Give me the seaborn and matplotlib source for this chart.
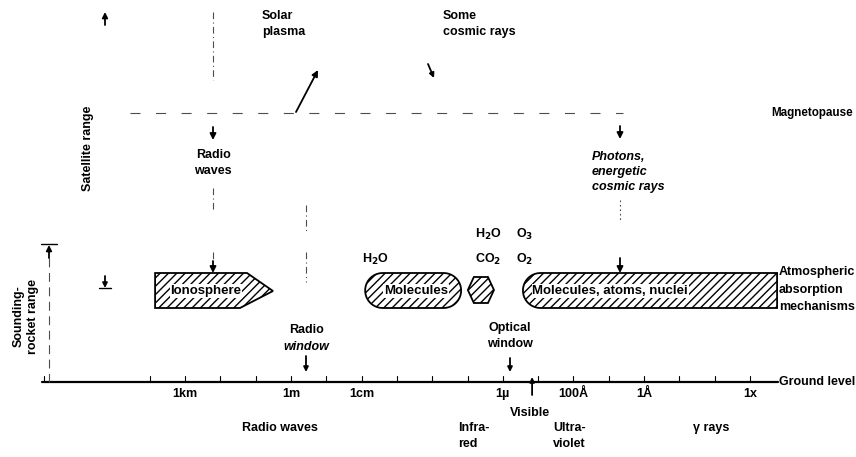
import numpy as np
import matplotlib.pyplot as plt
import seaborn as sns
from matplotlib.patches import Polygon

sns.set_style("white")
plt.rcParams["font.family"] = ["Liberation Sans Narrow", "Liberation Sans", "DejaVu Sans"]
plt.rcParams["font.weight"] = "bold"
plt.rcParams["hatch.linewidth"] = 1.0
plt.rcParams["text.color"] = "black"

# x axis: log10 of wavelength in metres (long waves on the left)
ground_span = [7.05, -13.8]
tick_decades = [7, 4, 3, 2, 1, 0, -1, -2, -3, -4, -5, -6, -7, -8, -9, -10, -11, -12, -13]
label_decades = [3, 0, -2, -6, -8, -10, -13]
label_names = ["1km", "1m", "1cm", "1\u00b5", "100\u00c5", "1\u00c5", "1x"]

# absorption bands, log10 wavelength limits
band_names = ["Ionosphere", "Molecules", "", "Molecules, atoms, nuclei"]
band_left = [3.85, -2.10, -5.01, -6.57]
band_right = [0.51, -4.82, -5.75, -13.77]
band_text_x = [2.41, -3.54, None, -9.04]

# spectral regions under the ground line
region_names = ["Radio waves", "Infra-\nred", "Visible", "Ultra-\nviolet", "\u03b3 rays"]
region_x = [0.31, -4.73, -6.77, -7.42, -11.39]

# screen mapping used for layout (pixels per decade, pixel of 1 m)
PX = 35.3
X0 = 291.0
W, H = 856, 457

# vertical levels (layout, pixel rows from top)
Y_GROUND = 382
Y_TOP, Y_BOT = 273, 308
Y_MAG = 113


def to_px(v):
    return X0 - PX * np.asarray(v)


def to_log(p):
    return (X0 - np.asarray(p)) / PX


def stadium(xl, xr, top, bot, round_left=True, round_right=True):
    # rounded bar; built in screen space so the ends stay round
    pl, pr = to_px(xl), to_px(xr)
    r = (bot - top) / 2.0
    yc = (top + bot) / 2.0
    pts = []
    if round_right:
        t = np.linspace(-np.pi / 2, np.pi / 2, 20)
        pts += list(zip(pr - r + r * np.cos(t), yc + r * np.sin(t)))
    else:
        pts += [(pr, top), (pr, bot)]
    if round_left:
        t = np.linspace(np.pi / 2, 3 * np.pi / 2, 20)
        pts += list(zip(pl + r + r * np.cos(t), yc + r * np.sin(t)))
    else:
        pts += [(pl, bot), (pl, top)]
    pts = np.array(pts)
    return np.column_stack([to_log(pts[:, 0]), pts[:, 1]])


def arrow(ax, x0, y0, x1, y1, ms=9):
    ax.annotate("", xy=(x1, y1), xytext=(x0, y0),
                arrowprops=dict(arrowstyle="-|>", color="black", lw=1.3,
                                mutation_scale=ms, shrinkA=0, shrinkB=0))


fig = plt.figure(figsize=(W / 100, H / 100), dpi=100)
ax = fig.add_axes([0, 0, 1, 1])
ax.set_xlim(X0 / PX, (X0 - W) / PX)
ax.set_ylim(H, 0)
ax.axis("off")

fs = 9
dash_dot = (0, (6, 3, 1, 3))

# ground level line with decade ticks
sns.lineplot(x=ground_span, y=[Y_GROUND, Y_GROUND], ax=ax, color="black", lw=1.6)
for d in tick_decades:
    ax.plot([d, d], [Y_GROUND, Y_GROUND - 6], color="black", lw=0.8)
for d, name in zip(label_decades, label_names):
    ax.text(d, 394, name, ha="center", va="center", fontsize=fs)
ax.text(to_log(779), Y_GROUND, "Ground level", ha="left", va="center", fontsize=fs)

# spectral regions
for x, name in zip(region_x, region_names):
    ha = "center" if name in ("Radio waves", "Visible") else "left"
    y = 413 if name == "Visible" else 428
    va = "center" if "\n" not in name else "top"
    if "\n" in name:
        y = 422
    ax.text(x, y, name, ha=ha, va=va, fontsize=fs, linespacing=1.45)
arrow(ax, -6.83, 395, -6.83, 377, ms=7)

# magnetopause
ax.plot([4.56, -9.4], [Y_MAG, Y_MAG], color="0.3", lw=0.8, ls=(0, (9, 14)))
ax.text(to_log(771), Y_MAG, "Magnetopause", ha="left", va="center", fontsize=fs - 0.6)

# absorption bands
iono = np.array([
    [band_left[0], Y_TOP],
    [to_log(247), Y_TOP],
    [band_right[0], 291],
    [to_log(240), Y_BOT],
    [band_left[0], Y_BOT],
])
shapes = [
    iono,
    stadium(band_left[1], band_right[1], Y_TOP, Y_BOT),
    None,
    stadium(band_left[3], band_right[3], Y_TOP, Y_BOT, round_right=False),
]
# small hexagon for H2O / CO2
hl, hr = to_px(band_left[2]), to_px(band_right[2])
hx = np.array([hl, hl + 6, hr - 6, hr, hr - 6, hl + 6])
hy = np.array([290, 277, 277, 290, 303, 303])
shapes[2] = np.column_stack([to_log(hx), hy])

for shp, name, tx in zip(shapes, band_names, band_text_x):
    ax.add_patch(Polygon(shp, closed=True, facecolor="white", edgecolor="black",
                         lw=1.3, hatch="////"))
    if name:
        ax.text(tx, 291, name, ha="center", va="center", fontsize=fs + 0.5,
                bbox=dict(facecolor="white", edgecolor="none", pad=0.5))

ax.text(to_log(779), 272, "Atmospheric", ha="left", va="center", fontsize=fs)
ax.text(to_log(779), 290, "absorption", ha="left", va="center", fontsize=fs)
ax.text(to_log(779), 307, "mechanisms", ha="left", va="center", fontsize=fs)

# molecule labels
ax.text(to_log(375), 259, "H$_2$O", ha="center", va="center", fontsize=fs)
ax.text(to_log(488), 234, "H$_2$O", ha="center", va="center", fontsize=fs)
ax.text(to_log(488), 259, "CO$_2$", ha="center", va="center", fontsize=fs)
ax.text(to_log(525), 234, "O$_3$", ha="center", va="center", fontsize=fs)
ax.text(to_log(525), 259, "O$_2$", ha="center", va="center", fontsize=fs)

# radio waves column
xr = to_log(213)
for y0, y1 in [(12, 80), (188, 210), (252, 262)]:
    ax.plot([xr, xr], [y0, y1], color="0.3", lw=0.8, ls=dash_dot)
arrow(ax, xr, 127, xr, 140)
ax.text(xr, 163, "Radio\nwaves", ha="center", va="center", fontsize=fs, linespacing=1.45)
arrow(ax, xr, 261, xr, Y_TOP)

# radio window column
xw = to_log(306)
for y0, y1 in [(205, 232), (252, 282)]:
    ax.plot([xw, xw], [y0, y1], color="0.3", lw=0.8, ls=dash_dot)
ax.text(xw, 330, "Radio", ha="center", va="center", fontsize=fs)
ax.text(xw, 347, "window", ha="center", va="center", fontsize=fs, style="italic")
arrow(ax, xw, 356, xw, 372, ms=7)

# optical window
xo = to_log(510)
ax.text(xo, 336, "Optical\nwindow", ha="center", va="center", fontsize=fs, linespacing=1.45)
arrow(ax, xo, 358, xo, 372, ms=7)

# solar plasma and cosmic rays
ax.text(to_log(262), 24, "Solar\nplasma", ha="left", va="center", fontsize=fs, linespacing=1.45)
arrow(ax, to_log(296), 112, to_log(318), 70)
ax.text(to_log(443), 24, "Some\ncosmic rays", ha="left", va="center", fontsize=fs, linespacing=1.45)
arrow(ax, to_log(428), 64, to_log(434), 78, ms=7)

# photons column
xp = to_log(620)
arrow(ax, xp, 126, xp, 139)
ax.text(to_log(592), 172, "Photons,\nenergetic\ncosmic rays", ha="left", va="center",
        fontsize=fs, linespacing=1.35, style="italic")
ax.plot([xp, xp], [200, 222], color="0.3", lw=0.8, ls=(0, (1.5, 2.5)))
arrow(ax, xp, 258, xp, Y_TOP)

# satellite range
xs = to_log(105)
arrow(ax, xs, 25, xs, 12, ms=8)
ax.text(to_log(88), 148, "Satellite range", rotation=90, ha="center", va="center", fontsize=fs)
arrow(ax, xs, 276, xs, 288, ms=7)
ax.plot([to_log(99), to_log(111)], [288, 288], color="black", lw=1.0)

# sounding rocket range
xb = to_log(49)
ax.plot([to_log(41), to_log(57)], [244, 244], color="black", lw=1.0)
arrow(ax, xb, 258, xb, 245, ms=8)
ax.plot([xb, xb], [258, Y_GROUND], color="0.3", lw=0.8, ls=(0, (8, 5)))
ax.text(to_log(26), 316, "Sounding-\nrocket range", rotation=90, ha="center", va="center",
        fontsize=fs, linespacing=1.3)

fig.savefig("out.png", dpi=100)
